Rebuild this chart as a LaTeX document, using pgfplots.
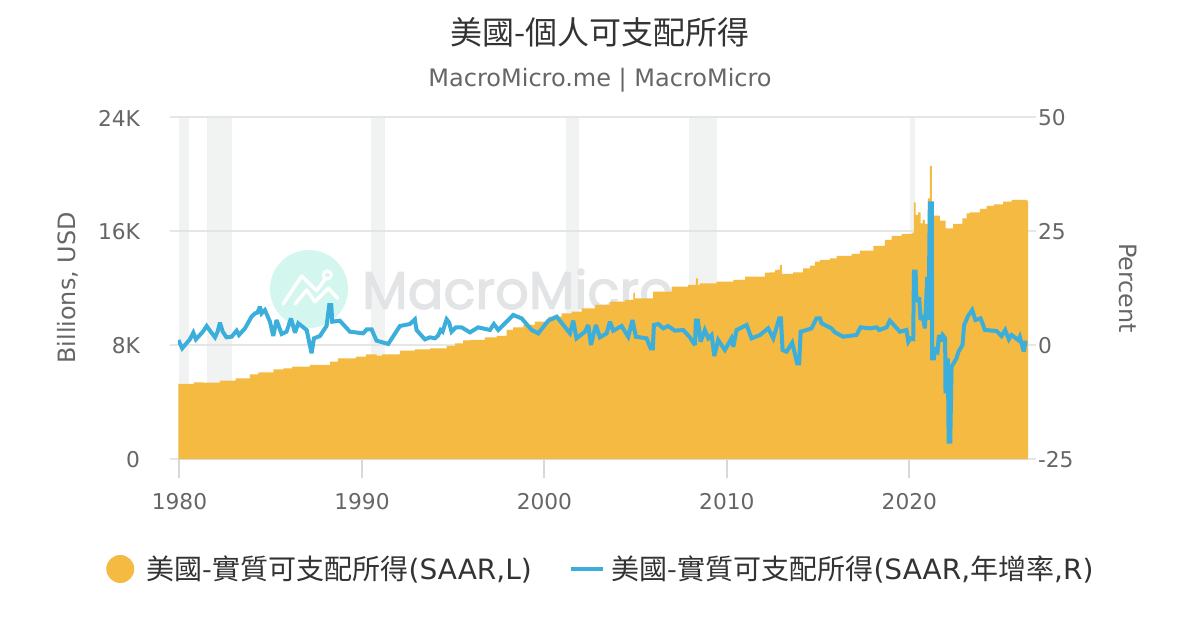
\documentclass[border=0pt]{standalone}
\usepackage{pgfplots}
\pgfplotsset{compat=1.18}
\usepackage{fontspec}
\setmainfont{DejaVu Sans}
\newfontfamily\cjk{Noto Sans CJK TC}
\newfontfamily\wmfont[FakeBold=2.2]{Poppins}
\definecolor{orangeA}{HTML}{F5BA42}
\definecolor{blueL}{HTML}{3CAEDB}
\definecolor{gridc}{HTML}{E6E6E6}
\definecolor{axisc}{HTML}{D8D8D8}
\definecolor{textc}{HTML}{666666}
\definecolor{titlec}{HTML}{333333}
\definecolor{bandc}{HTML}{E0E5E5}
\definecolor{wmc}{HTML}{E2E4E6}
\definecolor{wmcirc}{HTML}{D3F6EE}
\pgfplotstableread{
year val
1979.94 5264
1980.79 5381
1981.31 5358
1982.22 5498
1983.08 5662
1983.86 5943
1984.32 6083
1985.14 6293
1985.69 6363
1986.18 6480
1987.15 6598
1988.25 6831
1988.70 7065
1989.67 7182
1990.22 7346
1990.80 7252
1991.10 7346
1992.08 7603
1992.90 7697
1993.73 7767
1994.64 7931
1995.10 8118
1995.55 8328
1995.92 8352
1996.74 8539
1997.38 8633
1997.93 9053
1998.29 9241
1998.84 9404
1999.48 9638
2000.21 9989
2000.94 10223
2001.49 10340
2002.04 10574
2002.77 10808
2003.59 11042
2004.41 11159
2004.87 11673
2004.96 11275
2005.96 11743
2006.97 12094
2007.88 12211
2008.30 12679
2008.41 12211
2008.52 12328
2009.43 12445
2010.35 12562
2011.00 12796
2012.08 13077
2012.36 13100
2012.63 13264
2012.90 13614
2013.01 12983
2013.63 13100
2014.18 13381
2014.55 13568
2014.82 13848
2015.10 13965
2015.64 14082
2016.01 14246
2016.83 14386
2017.29 14620
2018.02 14948
2018.66 15369
2019.02 15649
2019.57 15790
2020.17 15883
2020.25 18012
2020.34 17123
2020.48 17310
2020.61 16538
2020.72 16772
2020.85 16491
2021.01 18292
2021.12 20561
2021.23 17076
2021.67 16725
2021.98 16187
2022.40 16491
2022.91 16889
2023.13 17240
2023.31 17310
2023.86 17544
2024.23 17754
2024.63 17871
2025.14 18058
2025.60 18175
2026.42 18129
2026.50 18129
}\incometable
\pgfplotstableread{
year val
1979.94 1.09
1980.15 -0.73
1980.57 1.24
1980.76 2.70
1980.90 1.24
1981.12 2.19
1981.31 3.07
1981.49 4.16
1981.71 2.92
1981.95 1.68
1982.09 2.92
1982.22 4.89
1982.37 2.92
1982.58 1.68
1982.86 1.82
1983.13 3.14
1983.26 2.19
1983.59 3.65
1983.95 6.21
1984.14 6.94
1984.27 7.09
1984.41 8.40
1984.50 6.94
1984.68 7.67
1984.96 5.11
1985.14 1.97
1985.32 5.48
1985.60 2.41
1985.87 2.92
1986.11 5.84
1986.33 2.70
1986.51 4.75
1986.97 3.29
1987.24 -1.83
1987.37 1.46
1987.70 1.97
1988.06 4.16
1988.21 8.77
1988.32 8.77
1988.37 5.11
1988.79 5.33
1989.34 2.92
1990.07 2.55
1990.26 3.43
1990.53 3.43
1990.80 0.95
1991.44 0.22
1992.08 4.16
1992.63 4.60
1992.90 5.62
1992.99 3.29
1993.45 1.24
1993.73 1.68
1994.00 1.46
1994.18 2.12
1994.31 3.29
1994.42 2.92
1994.64 5.63
1994.78 4.89
1994.91 2.92
1995.15 3.87
1995.46 3.87
1995.70 3.29
1995.92 2.77
1996.37 3.87
1997.01 3.29
1997.23 4.60
1997.47 3.29
1998.29 6.58
1998.75 5.84
1999.30 3.29
1999.66 2.55
2000.21 5.33
2000.67 6.21
2001.40 2.55
2001.58 5.33
2001.76 1.46
2002.22 2.92
2002.40 4.38
2002.55 0.00
2002.82 4.38
2003.04 1.68
2003.41 2.55
2003.59 5.11
2003.77 3.14
2004.23 4.16
2004.59 1.82
2004.83 5.48
2005.01 1.82
2005.60 1.46
2005.82 -0.73
2005.94 -0.73
2006.00 4.38
2006.24 4.60
2006.51 3.65
2006.78 4.16
2007.15 3.14
2007.61 3.29
2007.97 1.68
2008.25 0.00
2008.30 5.33
2008.41 5.33
2008.56 0.73
2008.79 3.29
2008.98 1.46
2009.16 2.19
2009.31 -2.42
2009.52 1.09
2009.89 -1.10
2010.25 1.46
2010.35 -0.37
2010.53 3.29
2011.08 4.38
2011.35 1.46
2011.81 2.19
2012.26 3.65
2012.54 1.46
2012.87 5.84
2012.96 5.84
2013.05 -1.10
2013.27 -1.47
2013.58 0.51
2013.85 -4.02
2013.96 -4.02
2014.04 2.92
2014.37 3.29
2014.64 3.65
2014.91 5.84
2015.10 5.84
2015.19 4.75
2015.73 3.65
2015.92 2.77
2016.37 1.82
2017.10 2.19
2017.32 3.87
2017.84 3.65
2018.20 3.87
2018.35 3.29
2018.75 3.87
2018.93 5.33
2019.48 2.92
2019.84 3.29
2019.94 0.73
2020.06 1.46
2020.21 1.31
2020.25 16.08
2020.34 16.08
2020.39 9.50
2020.54 10.45
2020.61 5.48
2020.72 6.58
2020.85 3.65
2020.98 14.98
2021.05 5.48
2021.12 31.06
2021.23 31.06
2021.25 -2.93
2021.34 -2.93
2021.43 -1.10
2021.54 -1.47
2021.62 2.19
2021.71 0.73
2021.82 2.19
2021.96 1.46
2021.98 -10.60
2022.11 -2.93
2022.15 -21.20
2022.24 -21.20
2022.31 -4.76
2022.58 -2.93
2022.69 -1.47
2022.91 0.00
2023.00 4.38
2023.22 6.43
2023.44 7.67
2023.62 5.48
2023.90 5.84
2024.14 3.29
2024.78 3.07
2025.05 1.97
2025.25 3.29
2025.45 1.24
2025.60 2.19
2025.96 1.09
2026.05 1.82
2026.27 -1.47
2026.35 0.51
2026.46 0.51
}\growthtable
\pgfplotsset{
  common/.style={
    scale only axis, width=637.5pt, height=256.5pt,
    at={(133.5pt,128.25pt)}, anchor=south west,
    xmin=1979.92, xmax=2026.5,
    clip mode=individual,
    scaled y ticks=false, scaled x ticks=false,
    tick label style={text=textc, font=\fontsize{16.3pt}{19pt}\selectfont},
    label style={text=textc, font=\fontsize{17.9pt}{21pt}\selectfont},
    /pgf/number format/assume math mode=true,
    /pgf/number format/.cd, set thousands separator={}, /pgfplots/.cd,
    major tick length=6pt, tick align=outside,
  }
}
\begin{document}
\begin{tikzpicture}
\path[use as bounding box] (0,0) rectangle (900pt,472.5pt);
% watermark behind the plots
\begin{scope}[x=0.75pt,y=-0.75pt,yshift=472.5pt]
\fill[wmcirc] (309,289) circle (39);
\draw[white,line width=2.6pt,line cap=round,line join=round] (283,304)--(301.7,276)--(316.7,290.7)--(325,279);
\draw[white,line width=2.2pt] (327.3,275) circle (4);
\draw[white,line width=2.6pt,line cap=round,line join=round] (295,304)--(306.7,290)--(315,301.7)--(328.3,288.3)--(337.7,298.3);
\node[text=wmc,inner sep=0pt,anchor=west,font=\wmfont\fontsize{39.6pt}{45pt}\selectfont] at (362,289) {MacroMicro};
\end{scope}
\begin{axis}[common,
  ymin=0, ymax=24000,
  axis x line*=bottom, axis y line*=left,
  x axis line style={draw=axisc,line width=1.5pt,-},
  y axis line style={draw=none,-},
  xtick=\empty,
  extra x ticks={1980,1990,2000,2010,2020},
  extra x tick labels={1980,1990,2000,2010,2020},
  extra x tick style={major tick length=14pt,
    tick style={draw=axisc,line width=1.5pt},
    tick label style={yshift=-8pt}},
  ytick={0,8000,16000,24000},
  yticklabels={0,8K,16K,24K},
  ytick style={draw=gridc,line width=1.5pt},
  ymajorgrids, grid style={draw=gridc,line width=1.5pt},
  yticklabel style={xshift=-19pt,yshift=-0.8pt},
  ylabel={Billions, USD},
  ylabel style={at={(axis description cs:-0.1294,0.5)},anchor=center},
  title={\cjk 美國-個人可支配所得},
  title style={at={(axis description cs:0.4965,1.2252)},anchor=center,yshift=0pt,text=titlec,
    font=\fontsize{24pt}{28pt}\selectfont},
]
\addplot[draw=none,fill=bandc,fill opacity=0.45,forget plot] coordinates {(1980.0,0)(1980.0,24000)(1980.5,24000)(1980.5,0)} -- cycle;
\addplot[draw=none,fill=bandc,fill opacity=0.45,forget plot] coordinates {(1981.5,0)(1981.5,24000)(1982.9,24000)(1982.9,0)} -- cycle;
\addplot[draw=none,fill=bandc,fill opacity=0.45,forget plot] coordinates {(1990.5,0)(1990.5,24000)(1991.25,24000)(1991.25,0)} -- cycle;
\addplot[draw=none,fill=bandc,fill opacity=0.45,forget plot] coordinates {(2001.2,0)(2001.2,24000)(2001.9,24000)(2001.9,0)} -- cycle;
\addplot[draw=none,fill=bandc,fill opacity=0.45,forget plot] coordinates {(2007.9,0)(2007.9,24000)(2009.45,24000)(2009.45,0)} -- cycle;
\addplot[draw=none,fill=bandc,fill opacity=0.45,forget plot] coordinates {(2020.05,0)(2020.05,24000)(2020.3,24000)(2020.3,0)} -- cycle;
\addplot[draw=none,fill=orangeA,const plot] table[x=year,y=val] {\incometable} \closedcycle;
\node[text=textc,font=\fontsize{18pt}{21pt}\selectfont,anchor=center] at (axis description cs:0.4965,1.1077) {MacroMicro.me | MacroMicro};
\end{axis}
\begin{axis}[common,
  ymin=-25, ymax=50,
  axis x line=none, axis y line*=right,
  y axis line style={draw=none,-},
  ytick={-25,0,25,50},
  yticklabels={-25,0,25,50},
  ytick style={draw=gridc,line width=1.5pt},
  yticklabel style={xshift=-2pt,yshift=-0.8pt},
  ylabel={Percent},
  ylabel style={at={(axis description cs:1.1176,0.5)},anchor=center,rotate=180},
  legend columns=2,
  legend style={at={(axis description cs:-0.0847,-0.3216)},anchor=west,draw=none,fill=none,
    inner sep=0pt,
    font=\fontsize{21pt}{24pt}\selectfont,text=titlec,
    /tikz/every even column/.append style={column sep=26pt}},
  legend cell align=left,
]
\addlegendimage{legend image code/.code={\path[draw=none] (0,0)--(28.5pt,0);\fill[orangeA,draw=none] (10.5pt,0) circle (10.5pt);}}
\addlegendentry{\cjk 美國-實質可支配所得\normalfont(SAAR,L)}
\addplot[blueL,line width=3pt,line join=miter,miter limit=3,
  legend image code/.code={\path[draw=none] (0,0)--(28.5pt,0);\draw[blueL,line width=3pt] (0,0)--(24pt,0);}]
  table[x=year,y=val] {\growthtable};
\addlegendentry{\cjk 美國-實質可支配所得\normalfont(SAAR,{\cjk 年增率},R)}
\end{axis}
\end{tikzpicture}
\end{document}
